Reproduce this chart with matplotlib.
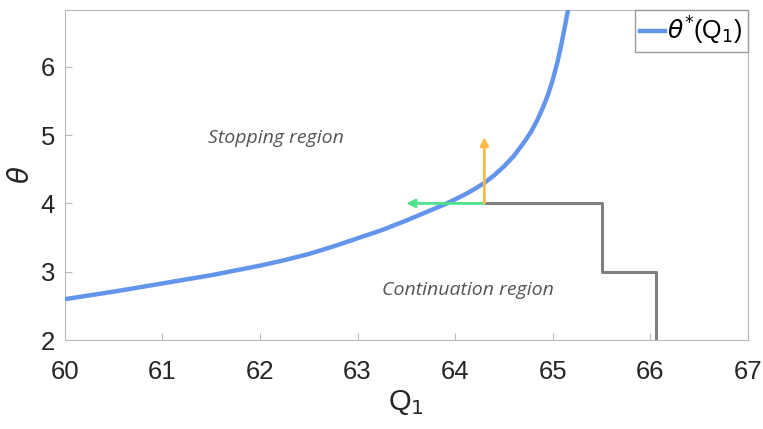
import matplotlib.pyplot as plt

plt.rcParams['font.family'] = ['Liberation Sans', 'DejaVu Sans']

# boundary theta*(Q1)
q_curve = [60.0, 60.25, 60.5, 60.75, 61.0, 61.25, 61.5, 61.75, 62.0, 62.25, 62.5, 62.75, 63.0,
           63.25, 63.5, 63.65, 63.8, 63.9, 64.0, 64.1, 64.2, 64.3, 64.4, 64.5, 64.6, 64.7,
           64.78, 64.84, 64.9, 64.95, 65.0, 65.05, 65.09, 65.13, 65.16]
theta_curve = [2.6, 2.655, 2.71, 2.77, 2.83, 2.89, 2.95, 3.02, 3.09, 3.17, 3.26, 3.37, 3.49,
               3.61, 3.75, 3.84, 3.93, 3.99, 4.06, 4.13, 4.21, 4.3, 4.41, 4.54, 4.69, 4.88,
               5.05, 5.21, 5.4, 5.58, 5.8, 6.07, 6.33, 6.62, 6.85]

# sample path
q_path = [64.3, 65.51, 65.51, 66.06, 66.06]
theta_path = [4.0, 4.0, 3.0, 3.0, 2.0]

arrow_start = (64.3, 4.0)
green_end = (63.5, 4.0)
orange_end = (64.3, 4.97)

fig, ax = plt.subplots(figsize=(7.63, 4.29), dpi=100)
fig.subplots_adjust(left=0.085, right=0.98, top=0.977, bottom=0.207)

ax.plot(q_curve, theta_curve, color='#6495ed', lw=3.2, label=r'$\theta^{*}$(Q$_1$)', zorder=3)
ax.plot(q_path, theta_path, color='#808080', lw=2.2, zorder=2)

ax.annotate('', xy=green_end, xytext=arrow_start,
            arrowprops=dict(arrowstyle='-|>', color='#4ee28a', lw=2, mutation_scale=12, shrinkA=0, shrinkB=0), zorder=4)
ax.annotate('', xy=orange_end, xytext=arrow_start,
            arrowprops=dict(arrowstyle='-|>', color='#ffbb44', lw=2, mutation_scale=12, shrinkA=0, shrinkB=0), zorder=4)

ax.text(62.16, 4.96, 'Stopping region', style='italic', color='#555555', fontsize=14,
        ha='center', va='center', family=['Open Sans', 'DejaVu Sans'])
ax.text(64.13, 2.73, 'Continuation region', style='italic', color='#555555', fontsize=14,
        ha='center', va='center', family=['Open Sans', 'DejaVu Sans'])

ax.set_xlim(60, 67)
ax.set_ylim(2, 6.83)
ax.set_xticks(range(60, 68))
ax.set_yticks(range(2, 7))
ax.tick_params(direction='in', labelsize=18.5, length=5, colors='#262626')
ax.tick_params(axis='both', which='both', color='#bbbbbb')
ax.tick_params(axis='x', pad=14)
ax.tick_params(axis='y', pad=7)
for s in ax.spines.values():
    s.set_color('#bbbbbb')

ax.set_xlabel('Q$_1$', fontsize=21, color='#262626', labelpad=3)
ax.set_ylabel(r'$\theta$', fontsize=20, color='#262626', labelpad=4)

leg = ax.legend(loc='upper right', fontsize=18, handlelength=1.0, handletextpad=0.1,
                borderpad=0.2, borderaxespad=0.0, fancybox=False, framealpha=1,
                bbox_to_anchor=(1.0, 1.0))
leg.get_frame().set_edgecolor('#999999')

fig.savefig('out.png')
